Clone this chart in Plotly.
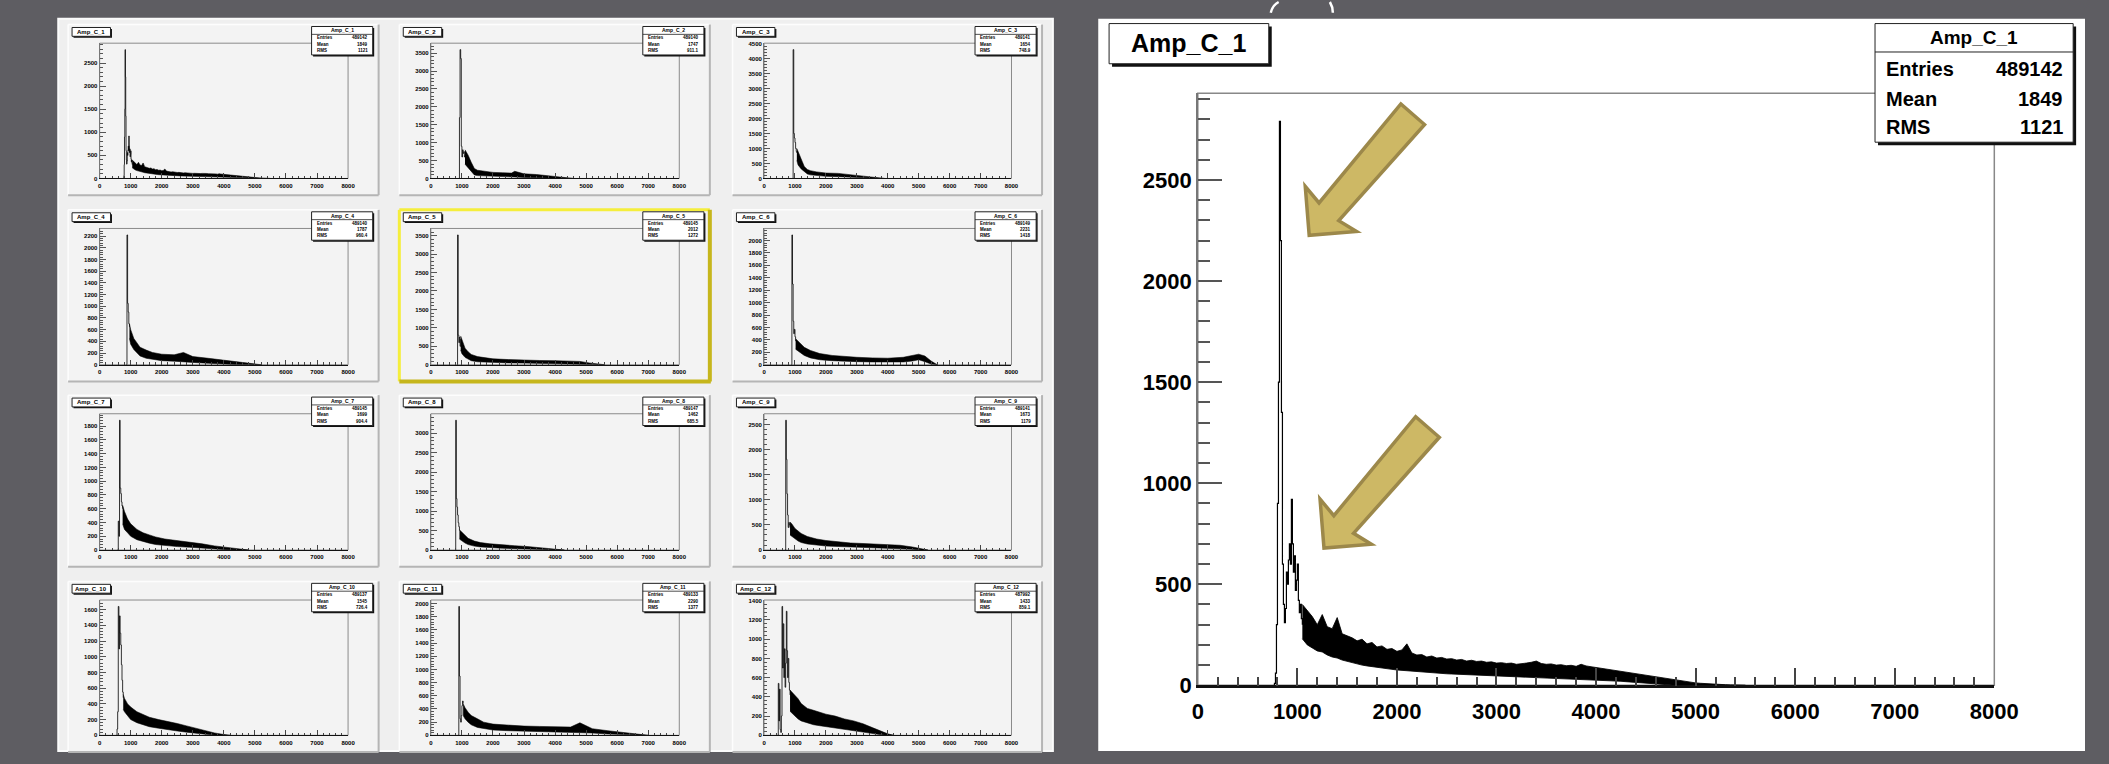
import plotly.graph_objects as go

W, H = 2109, 764
FONT = "Liberation Sans, Arial, Helvetica, sans-serif"

# ---------------- data ----------------
x_ticks = [0, 1000, 2000, 3000, 4000, 5000, 6000, 7000, 8000]
titles = ["Amp_C_1", "Amp_C_2", "Amp_C_3", "Amp_C_4", "Amp_C_5", "Amp_C_6",
          "Amp_C_7", "Amp_C_8", "Amp_C_9", "Amp_C_10", "Amp_C_11", "Amp_C_12"]
entries = ["489142", "489140", "489141", "489140", "489145", "489149",
           "489145", "489147", "489141", "489137", "489133", "487992"]
means = ["1849", "1747", "1654", "1787", "2012", "2231",
         "1699", "1462", "1673", "1545", "2290", "1433"]
rmss = ["1121", "911.1", "748.9", "960.4", "1272", "1418",
        "904.4", "685.5", "1179", "726.4", "1377", "859.1"]
y_dticks = [500, 500, 500, 200, 500, 200, 200, 500, 500, 200, 200, 200]

# Amp_C_1 (also the large plot)
c1_peak_x = [760, 770, 780, 790, 800, 810, 820, 830, 840, 850, 860, 870, 880, 890, 900,
             910, 920, 930, 940, 950, 960, 970, 980, 990, 1000, 1010, 1020, 1030, 1040, 1050]
c1_peak_y = [0, 10, 60, 300, 900, 1500, 2790, 2200, 1350, 600, 400, 310, 380, 560, 500,
             620, 700, 600, 920, 700, 560, 640, 470, 520, 600, 420, 360, 400, 330, 300]
c1_band_x = [1050, 1100, 1150, 1200, 1250, 1300, 1350, 1400, 1450, 1500,
             1550, 1600, 1650, 1700, 1750, 1800, 1850, 1900, 1950, 2000,
             2050, 2100, 2150, 2200, 2250, 2300, 2350, 2400, 2450, 2500,
             2550, 2600, 2650, 2700, 2750, 2800, 2850, 2900, 2950, 3000,
             3050, 3100, 3150, 3200, 3250, 3300, 3350, 3400, 3450, 3500,
             3550, 3600, 3650, 3700, 3750, 3800, 3850, 3900, 3950, 4000,
             4050, 4100, 4150, 4200, 4250, 4300, 4350, 4400, 4450, 4500,
             4550, 4600, 4650, 4700, 4750, 4800, 4850, 4900, 4950, 5000,
             5050, 5100, 5150, 5200, 5250, 5300, 5350, 5400, 5450, 5500]
c1_band_lo = [230, 200, 185, 170, 165, 150, 140, 135, 125, 118,
              112, 106, 100, 96, 92, 90, 86, 82, 79, 76,
              74, 72, 68, 66, 64, 62, 61, 60, 58, 57,
              56, 55, 53, 52, 51, 50, 49, 48, 46, 45,
              44, 44, 43, 42, 41, 40, 39, 38, 38, 37,
              36, 35, 34, 33, 33, 32, 31, 30, 29, 28,
              26, 25, 23, 22, 20, 18, 16, 14, 12, 10,
              8, 6, 4, 3, 1, 0, 0, 0, 0, 0,
              0, 0, 0, 0, 0, 0, 0, 0, 0, 0]
c1_band_hi = [400, 370, 340, 300, 350, 290, 280, 335, 255, 245,
              235, 220, 228, 205, 212, 190, 195, 178, 182, 168,
              175, 205, 160, 150, 152, 140, 145, 135, 138, 130,
              132, 125, 128, 120, 124, 118, 120, 114, 116, 110,
              112, 108, 110, 104, 106, 110, 114, 120, 108, 104,
              106, 100, 102, 97, 99, 94, 104, 96, 92, 88,
              86, 80, 78, 74, 70, 65, 62, 57, 54, 50,
              48, 44, 40, 36, 30, 25, 22, 18, 15, 12,
              10, 8, 6, 5, 4, 3, 2, 2, 1, 0]

c2_peak_x = [900, 920, 940, 960, 980, 1000, 1020, 1040, 1060, 1080, 1100]
c2_peak_y = [0, 1700, 3600, 3350, 900, 600, 800, 700, 750, 600, 650]
c2_band_x = [1100, 1200, 1300, 1400, 1500, 1700, 2000, 2300, 2600, 2700, 3000, 3400, 3800, 4100, 4400, 4600]
c2_band_lo = [400, 300, 170, 100, 80, 70, 60, 50, 45, 40, 30, 20, 10, 5, 0, 0]
c2_band_hi = [800, 650, 450, 280, 230, 200, 170, 160, 150, 200, 130, 110, 80, 50, 20, 0]

c3_peak_x = [920, 940, 960, 980, 1000, 1020, 1040, 1060]
c3_peak_y = [0, 4300, 1500, 1350, 1200, 1000, 900, 850]
c3_band_x = [1060, 1100, 1200, 1300, 1400, 1500, 1700, 2000, 2400, 2800, 3100, 3400, 3700, 3900]
c3_band_lo = [600, 450, 320, 220, 150, 120, 90, 70, 60, 40, 20, 10, 0, 0]
c3_band_hi = [1000, 900, 600, 400, 300, 260, 220, 180, 170, 120, 80, 50, 20, 0]

c4_peak_x = [860, 880, 900, 920, 940, 960]
c4_peak_y = [0, 2220, 1050, 900, 700, 650]
c4_band_x = [960, 1000, 1100, 1200, 1300, 1500, 1700, 2000, 2400, 2700, 3000, 3500, 4000, 4500, 5000, 5200]
c4_band_lo = [450, 350, 260, 200, 150, 110, 90, 70, 60, 55, 40, 25, 10, 0, 0, 0]
c4_band_hi = [700, 600, 450, 380, 300, 250, 210, 180, 170, 210, 140, 110, 80, 40, 10, 0]

c5_peak_x = [840, 860, 880, 900, 920, 940, 960]
c5_peak_y = [0, 3520, 800, 600, 750, 500, 700]
c5_band_x = [960, 1000, 1100, 1200, 1300, 1500, 1700, 2000, 2500, 3000, 3500, 4000, 4500, 4800, 5100, 5400, 5600]
c5_band_lo = [400, 300, 200, 150, 110, 80, 70, 60, 50, 45, 40, 35, 25, 15, 5, 0, 0]
c5_band_hi = [780, 700, 450, 350, 280, 220, 190, 160, 140, 120, 115, 110, 100, 90, 50, 15, 0]

c6_peak_x = [880, 900, 920, 940, 960, 980, 1000, 1020]
c6_peak_y = [0, 2090, 1300, 700, 500, 570, 450, 380]
c6_band_x = [1020, 1100, 1200, 1300, 1500, 1800, 2200, 2600, 3000, 3500, 4000, 4500, 4800, 5000, 5200, 5400, 5600]
c6_band_lo = [250, 220, 180, 150, 110, 80, 65, 55, 50, 45, 40, 45, 60, 80, 50, 10, 0]
c6_band_hi = [420, 380, 320, 280, 230, 180, 150, 130, 120, 110, 105, 120, 150, 170, 140, 60, 0]

c7_peak_x = [580, 600, 620, 640, 660, 680, 700, 720, 740]
c7_peak_y = [0, 420, 200, 1886, 900, 820, 700, 640, 600]
c7_band_x = [740, 800, 900, 1000, 1200, 1400, 1600, 1800, 2100, 2500, 2900, 3300, 3700, 4100, 4500, 4800]
c7_band_lo = [380, 300, 250, 200, 150, 120, 100, 80, 65, 50, 40, 25, 15, 5, 0, 0]
c7_band_hi = [650, 560, 450, 380, 300, 250, 220, 190, 160, 140, 120, 90, 60, 35, 15, 0]

c8_peak_x = [780, 800, 820, 840, 860, 880, 900, 920]
c8_peak_y = [0, 3330, 1320, 1100, 900, 700, 600, 500]
c8_band_x = [920, 1000, 1100, 1200, 1400, 1600, 1900, 2300, 2700, 3100, 3500, 3800, 4100, 4300]
c8_band_lo = [280, 230, 180, 140, 100, 80, 60, 45, 35, 25, 12, 5, 0, 0]
c8_band_hi = [520, 450, 380, 300, 230, 190, 160, 130, 110, 90, 60, 35, 10, 0]

c9_peak_x = [680, 700, 720, 740, 760, 780, 800, 820, 840]
c9_peak_y = [0, 2590, 1810, 1120, 700, 450, 550, 500, 450]
c9_band_x = [840, 900, 1000, 1100, 1200, 1400, 1700, 2000, 2400, 2800, 3200, 3600, 4000, 4400, 4800, 5100, 5300]
c9_band_lo = [300, 270, 220, 180, 150, 120, 100, 80, 70, 60, 55, 50, 45, 35, 15, 0, 0]
c9_band_hi = [560, 520, 430, 380, 330, 270, 220, 190, 160, 140, 130, 120, 110, 95, 60, 20, 0]

c10_peak_x = [540, 560, 580, 600, 620, 640, 660, 680, 700, 720, 740, 760]
c10_peak_y = [0, 80, 300, 1640, 1100, 1520, 1300, 1150, 900, 700, 550, 480]
c10_band_x = [760, 800, 900, 1000, 1200, 1400, 1600, 1900, 2200, 2500, 2800, 3100, 3400, 3700, 4000, 4200]
c10_band_lo = [330, 300, 250, 200, 160, 130, 110, 90, 70, 55, 40, 25, 15, 5, 0, 0]
c10_band_hi = [520, 470, 400, 360, 300, 260, 230, 200, 170, 150, 120, 90, 60, 30, 10, 0]

c11_peak_x = [880, 900, 920, 940, 960, 980, 1000, 1020, 1040]
c11_peak_y = [0, 1956, 900, 250, 200, 300, 450, 520, 480]
c11_band_x = [1040, 1100, 1200, 1300, 1500, 1700, 2000, 2500, 3000, 3500, 4000, 4500, 4800, 5200, 5700, 6200, 6700, 7000]
c11_band_lo = [300, 250, 200, 160, 120, 100, 80, 70, 65, 60, 55, 50, 50, 35, 20, 10, 0, 0]
c11_band_hi = [480, 420, 350, 300, 250, 200, 170, 150, 140, 135, 130, 125, 190, 100, 70, 45, 20, 0]

c12_peak_x = [440, 460, 480, 500, 520, 540, 560, 580, 600, 620, 640, 660, 680, 700, 720, 740, 760, 780, 800, 820, 840]
c12_peak_y = [0, 540, 150, 480, 60, 30, 200, 1340, 700, 1160, 600, 900, 500, 750, 1290, 880, 600, 800, 550, 470, 420]
c12_band_x = [840, 900, 1000, 1100, 1200, 1400, 1600, 1800, 2000, 2300, 2600, 2900, 3200, 3500, 3800, 4000, 4200]
c12_band_lo = [250, 230, 200, 170, 150, 130, 110, 100, 90, 75, 60, 45, 30, 15, 5, 0, 0]
c12_band_hi = [470, 450, 420, 380, 330, 280, 260, 240, 220, 200, 170, 150, 120, 80, 40, 15, 0]

hists = [
    (c1_peak_x, c1_peak_y, c1_band_x, c1_band_lo, c1_band_hi),
    (c2_peak_x, c2_peak_y, c2_band_x, c2_band_lo, c2_band_hi),
    (c3_peak_x, c3_peak_y, c3_band_x, c3_band_lo, c3_band_hi),
    (c4_peak_x, c4_peak_y, c4_band_x, c4_band_lo, c4_band_hi),
    (c5_peak_x, c5_peak_y, c5_band_x, c5_band_lo, c5_band_hi),
    (c6_peak_x, c6_peak_y, c6_band_x, c6_band_lo, c6_band_hi),
    (c7_peak_x, c7_peak_y, c7_band_x, c7_band_lo, c7_band_hi),
    (c8_peak_x, c8_peak_y, c8_band_x, c8_band_lo, c8_band_hi),
    (c9_peak_x, c9_peak_y, c9_band_x, c9_band_lo, c9_band_hi),
    (c10_peak_x, c10_peak_y, c10_band_x, c10_band_lo, c10_band_hi),
    (c11_peak_x, c11_peak_y, c11_band_x, c11_band_lo, c11_band_hi),
    (c12_peak_x, c12_peak_y, c12_band_x, c12_band_lo, c12_band_hi),
]

# ---------------- helpers ----------------
def PX(x):
    return x / W

def PY(y):
    return 1 - y / H

shapes = []
annotations = []

def rect(l, t, r, b, fill=None, line=None, lw=1, layer="below"):
    shapes.append(dict(type="rect", xref="paper", yref="paper",
                       x0=PX(l), x1=PX(r), y0=PY(b), y1=PY(t),
                       fillcolor=fill if fill else "rgba(0,0,0,0)",
                       line=dict(color=line if line else "rgba(0,0,0,0)", width=lw if line else 0),
                       layer=layer))

def seg(x0, y0, x1, y1, color, lw, layer="below"):
    shapes.append(dict(type="line", xref="paper", yref="paper",
                       x0=PX(x0), x1=PX(x1), y0=PY(y0), y1=PY(y1),
                       line=dict(color=color, width=lw), layer=layer))

def txt(x, y, s, size, xanchor="center", color="black"):
    annotations.append(dict(xref="paper", yref="paper", x=PX(x), y=PY(y), text=s,
                            showarrow=False, xanchor=xanchor, yanchor="middle",
                            font=dict(family=FONT, size=size, color=color, weight="bold")))

def box(l, t, r, b, sh):
    rect(l + sh, t + sh, r + sh, b + sh, fill="#111111", layer="above")
    rect(l, t, r, b, fill="white", line="#222222", lw=1, layer="above")

# ---------------- backgrounds ----------------
rect(53, 17, 1062, H, fill="#efefef", line="#fbfbfb", lw=2)
rect(1108, 17, W, H, fill="white")

# decorative white strokes at the top edge
shapes.append(dict(type="path", xref="paper", yref="paper",
                   path=f"M {PX(1283)} {PY(11)} Q {PX(1285)} {PY(3)} {PX(1291)} {PY(0)}",
                   line=dict(color="white", width=2.5), layer="above"))
shapes.append(dict(type="path", xref="paper", yref="paper",
                   path=f"M {PX(1343)} {PY(0)} Q {PX(1346)} {PY(5)} {PX(1346)} {PY(11)}",
                   line=dict(color="white", width=2.5), layer="above"))

fig = go.Figure()
layout_axes = {}

col_l = [95, 431, 769]
col_r = [347, 683, 1020]
row_t = [42, 231, 420, 610]
row_b = [180, 370, 559, 748]

def add_hist(idx, data, lw):
    xa = "x" if idx == 1 else f"x{idx}"
    ya = "y" if idx == 1 else f"y{idx}"
    pxs, pys, bx, blo, bhi = data
    fig.add_trace(go.Scatter(x=bx, y=blo, mode="lines", line=dict(color="black", width=lw * 0.7),
                             xaxis=xa, yaxis=ya, hoverinfo="skip", showlegend=False))
    fig.add_trace(go.Scatter(x=bx, y=bhi, mode="lines", fill="tonexty", fillcolor="black",
                             line=dict(color="black", width=lw * 0.7),
                             xaxis=xa, yaxis=ya, hoverinfo="skip", showlegend=False))
    fig.add_trace(go.Scatter(x=pxs, y=pys, mode="lines", line=dict(color="black", width=lw, shape="hv"),
                             xaxis=xa, yaxis=ya, hoverinfo="skip", showlegend=False))

def axes(idx, l, t, r, b, ymax, dtick, big):
    xk = "xaxis" if idx == 1 else f"xaxis{idx}"
    yk = "yaxis" if idx == 1 else f"yaxis{idx}"
    xa = "x" if idx == 1 else f"x{idx}"
    ya = "y" if idx == 1 else f"y{idx}"
    fs = 22 if big else 6
    layout_axes[xk] = dict(
        domain=[PX(l), PX(r)], anchor=ya, range=[0, 8000],
        tickmode="array", tickvals=x_ticks, ticktext=[str(v) for v in x_ticks],
        ticks="inside", ticklen=18 if big else 5, tickwidth=1.5 if big else 0.8,
        tickcolor="#444444", ticklabelstandoff=5 if big else 1,
        minor=dict(ticks="inside", dtick=200, tick0=0, ticklen=9 if big else 2.5,
                   tickwidth=1.5 if big else 0.8, tickcolor="#444444"),
        showline=True, linecolor="#111111", linewidth=2.5 if big else 1,
        showgrid=False, zeroline=False, fixedrange=True,
        tickfont=dict(family=FONT, size=fs, color="black", weight="bold"),
    )
    layout_axes[yk] = dict(
        domain=[PY(b), PY(t)], anchor=xa, range=[0, ymax],
        tick0=0, dtick=dtick,
        ticks="inside", ticklen=24 if big else 6, tickwidth=1.5 if big else 0.8,
        tickcolor="#555555",
        minor=dict(ticks="inside", dtick=dtick / 5, tick0=0, ticklen=12 if big else 3,
                   tickwidth=1.5 if big else 0.8, tickcolor="#555555"),
        showline=True, linecolor="#777777", linewidth=1.5 if big else 1,
        showgrid=False, zeroline=False, fixedrange=True,
        tickfont=dict(family=FONT, size=fs, color="black", weight="bold"),
    )

# ---------------- large plot (Amp_C_1) ----------------
ML, MT, MR, MB = 1209, 93, 2017, 697
main_max = 1.05 * max(c1_peak_y)
rect(ML, MT, MR, MB, line="#888888", lw=1.5)
add_hist(1, hists[0], 1.2)
axes(1, ML, MT, MR, MB, main_max, 500, True)
box(1119, 22, 1281, 63, 3)
txt(1200, 42, "Amp_C_1", 25)
box(1896, 22, 2097, 143, 3)
seg(1896, 51, 2097, 51, "#222222", 1, layer="above")
txt(1996, 36, "Amp_C_1", 19)
for yy, lab, val in [(68, "Entries", entries[0]), (99, "Mean", means[0]), (128, "RMS", rmss[0])]:
    txt(1905, yy, lab, 20, xanchor="left")
    txt(2089, yy, val, 20, xanchor="right")

# ---------------- arrows ----------------
arrow_pts = [(1322, 238), (1318, 188), (1332, 205), (1415, 104), (1439, 125), (1352, 223), (1370, 234)]
for dx, dy in [(0, 0), (15, 319)]:
    p = "M " + " L ".join(f"{PX(x + dx)} {PY(y + dy)}" for x, y in arrow_pts) + " Z"
    shapes.append(dict(type="path", xref="paper", yref="paper", path=p,
                       fillcolor="#cdb865", line=dict(color="#9c884a", width=3.5), layer="above"))

# ---------------- 12 small panels ----------------
for k in range(12):
    r, c = divmod(k, 3)
    l, rr, t, b = col_l[c], col_r[c], row_t[r], row_b[r]
    pl, pr, pt, pb = l - 32, rr + 31, t - 19, b + 17
    rect(pl, pt, pr, pb, fill="#f3f3f3")
    if k == 4:
        seg(pl, pt, pr, pt, "#f5ee3c", 3)
        seg(pl, pt, pl, pb, "#f5ee3c", 3)
        seg(pl, pb, pr + 1, pb, "#c6b61c", 4)
        seg(pr, pt, pr, pb, "#c6b61c", 4)
    else:
        seg(pl, pt, pr, pt, "#fdfdfd", 1.5)
        seg(pl, pt, pl, pb, "#fdfdfd", 1.5)
        seg(pl, pb, pr, pb, "#b5b5b5", 2)
        seg(pr, pt, pr, pb, "#b5b5b5", 2)
    rect(l, t, rr, b, line="#8a8a8a", lw=1)
    idx = k + 2
    ymax = 1.05 * max(max(hists[k][1]), max(hists[k][4]))
    add_hist(idx, hists[k], 0.8)
    axes(idx, l, t, rr, b, ymax, y_dticks[k], False)
    box(pl + 4, t - 16, pl + 43, t - 7, 1.5)
    txt(pl + 23.5, t - 11.5, titles[k], 6)
    sl, sr = pr - 68, pr - 6
    box(sl, t - 17, sr, t + 12, 1.5)
    seg(sl, t - 9, sr, t - 9, "#222222", 0.8, layer="above")
    txt((sl + sr) / 2, t - 13, titles[k], 5)
    for yy, lab, val in [(t - 5.5, "Entries", entries[k]), (t + 1, "Mean", means[k]), (t + 7.5, "RMS", rmss[k])]:
        txt(sl + 3, yy, lab, 4.5, xanchor="left")
        txt(sr - 3, yy, val, 4.5, xanchor="right")

fig.update_layout(
    width=W, height=H, autosize=False,
    margin=dict(l=0, r=0, t=0, b=0, pad=0),
    paper_bgcolor="#5e5d62", plot_bgcolor="rgba(0,0,0,0)",
    showlegend=False, shapes=shapes, annotations=annotations,
    **layout_axes,
)

fig.write_html("out.html")
